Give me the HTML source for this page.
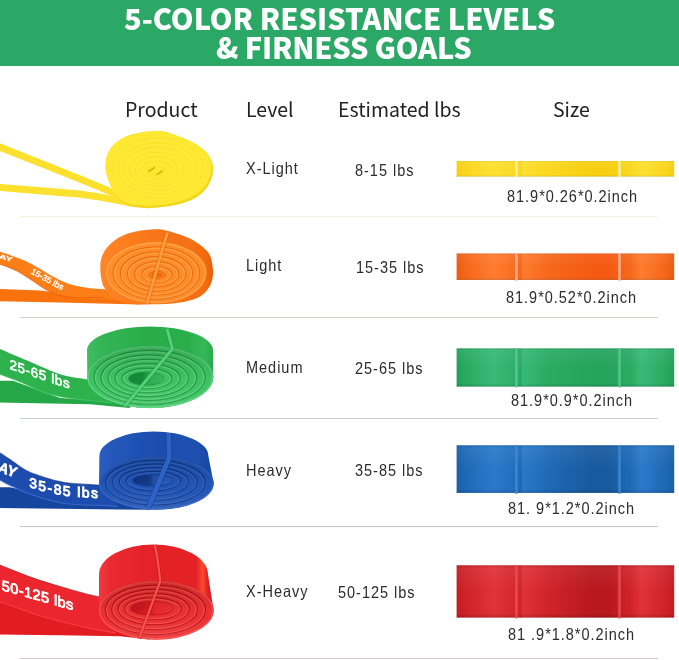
<!DOCTYPE html>
<html><head><meta charset="utf-8">
<style>
html,body{margin:0;padding:0;background:#fff;}
#page{position:relative;width:679px;height:660px;overflow:hidden;background:#fff;}
#banner{position:absolute;left:0;top:0;width:679px;height:65.8px;background:#2ba866;}
.t{position:absolute;white-space:nowrap;color:#fff;font-family:"Noto Sans CJK SC","Liberation Sans",sans-serif;font-weight:900;font-size:29px;line-height:29px;letter-spacing:0px;}
.h{position:absolute;white-space:nowrap;color:#222;font-family:"Noto Sans CJK SC","Liberation Sans",sans-serif;font-weight:400;font-size:19.5px;line-height:20px;}
.b{position:absolute;white-space:nowrap;color:#2c2c2c;font-family:"Liberation Sans",sans-serif;font-size:16.5px;line-height:17px;letter-spacing:1.1px;transform-origin:0 0;transform:scaleX(.88);}
.ln{position:absolute;left:20px;width:638px;height:1px;}
.bar{position:absolute;left:456px;width:218px;}
#art{position:absolute;left:0;top:0;}
</style></head><body>
<div id="page">
<div id="banner"></div>
<div class="t" id="t1" style="left:124px;top:2.5px;">5-COLOR RESISTANCE LEVELS</div>
<div class="t" id="t2" style="left:216px;top:32.3px;letter-spacing:-.2px;">&amp; FIRNESS GOALS</div>

<div class="h" id="h1" style="left:125px;top:99px;">Product</div>
<div class="h" id="h2" style="left:246px;top:99px;">Level</div>
<div class="h" id="h3" style="left:338px;top:99px;">Estimated lbs</div>
<div class="h" id="h4" style="left:553px;top:99px;">Size</div>

<div class="ln" style="top:216px;background:#f4f2e0;"></div>
<div class="ln" style="top:317px;background:#d9cfc6;"></div>
<div class="ln" style="top:418px;background:#c6cfca;"></div>
<div class="ln" style="top:526px;background:#c3c7c6;"></div>
<div class="ln" style="top:658px;background:#cfc6c6;"></div>

<div class="b" id="l1" style="left:246px;top:160px;">X-Light</div>
<div class="b" id="l2" style="left:246px;top:257px;">Light</div>
<div class="b" id="l3" style="left:246px;top:359px;">Medium</div>
<div class="b" id="l4" style="left:246px;top:462px;">Heavy</div>
<div class="b" id="l5" style="left:246px;top:583px;">X-Heavy</div>

<div class="b" id="w1" style="left:355px;top:162px;">8-15 lbs</div>
<div class="b" id="w2" style="left:356px;top:259px;">15-35 lbs</div>
<div class="b" id="w3" style="left:355px;top:360px;">25-65 lbs</div>
<div class="b" id="w4" style="left:355px;top:462px;">35-85 lbs</div>
<div class="b" id="w5" style="left:338px;top:584px;">50-125 lbs</div>

<div class="b" id="s1" style="left:507px;top:188px;">81.9*0.26*0.2inch</div>
<div class="b" id="s2" style="left:506px;top:289px;">81.9*0.52*0.2inch</div>
<div class="b" id="s3" style="left:511px;top:392px;">81.9*0.9*0.2inch</div>
<div class="b" id="s4" style="left:508px;top:500px;">81. 9*1.2*0.2inch</div>
<div class="b" id="s5" style="left:508px;top:626px;">81 .9*1.8*0.2inch</div>

<svg id="art" width="679" height="660" viewBox="0 0 679 660">
<defs>
<linearGradient id="gy" x1="0" x2="1" y1="0" y2="0"><stop offset="0" stop-color="#f6cf14"/><stop offset="0.05" stop-color="#fad720"/><stop offset="0.17" stop-color="#fde034"/><stop offset="0.3" stop-color="#fad720"/><stop offset="0.3" stop-color="#fde034"/><stop offset="0.42" stop-color="#fad720"/><stop offset="0.62" stop-color="#f7cf12"/><stop offset="0.7" stop-color="#f7cf12"/><stop offset="0.8" stop-color="#fad720"/><stop offset="0.85" stop-color="#fde034"/><stop offset="0.95" stop-color="#fad720"/><stop offset="1" stop-color="#f6cf14"/></linearGradient>
<linearGradient id="go" x1="0" x2="1" y1="0" y2="0"><stop offset="0" stop-color="#ea5c10"/><stop offset="0.05" stop-color="#f6681c"/><stop offset="0.17" stop-color="#ff7c30"/><stop offset="0.3" stop-color="#f6681c"/><stop offset="0.3" stop-color="#ff7c30"/><stop offset="0.42" stop-color="#f6681c"/><stop offset="0.62" stop-color="#f55a12"/><stop offset="0.7" stop-color="#f55a12"/><stop offset="0.8" stop-color="#f6681c"/><stop offset="0.85" stop-color="#ff7c30"/><stop offset="0.95" stop-color="#f6681c"/><stop offset="1" stop-color="#ea5c10"/></linearGradient>
<linearGradient id="gg" x1="0" x2="1" y1="0" y2="0"><stop offset="0" stop-color="#22a058"/><stop offset="0.05" stop-color="#2aab64"/><stop offset="0.17" stop-color="#38ba76"/><stop offset="0.3" stop-color="#2aab64"/><stop offset="0.3" stop-color="#38ba76"/><stop offset="0.42" stop-color="#2aab64"/><stop offset="0.62" stop-color="#25a45e"/><stop offset="0.7" stop-color="#25a45e"/><stop offset="0.8" stop-color="#2aab64"/><stop offset="0.85" stop-color="#38ba76"/><stop offset="0.95" stop-color="#2aab64"/><stop offset="1" stop-color="#22a058"/></linearGradient>
<linearGradient id="gb" x1="0" x2="1" y1="0" y2="0"><stop offset="0" stop-color="#1a60a8"/><stop offset="0.05" stop-color="#1f6ab8"/><stop offset="0.17" stop-color="#2a7aca"/><stop offset="0.3" stop-color="#1f6ab8"/><stop offset="0.3" stop-color="#2a7aca"/><stop offset="0.42" stop-color="#1f6ab8"/><stop offset="0.62" stop-color="#185a9e"/><stop offset="0.7" stop-color="#185a9e"/><stop offset="0.8" stop-color="#1f6ab8"/><stop offset="0.85" stop-color="#2a7aca"/><stop offset="0.95" stop-color="#1f6ab8"/><stop offset="1" stop-color="#1a60a8"/></linearGradient>
<linearGradient id="gr" x1="0" x2="1" y1="0" y2="0"><stop offset="0" stop-color="#c41c22"/><stop offset="0.05" stop-color="#d0242a"/><stop offset="0.17" stop-color="#e03238"/><stop offset="0.3" stop-color="#d0242a"/><stop offset="0.3" stop-color="#e03238"/><stop offset="0.42" stop-color="#d0242a"/><stop offset="0.62" stop-color="#b8181e"/><stop offset="0.7" stop-color="#b8181e"/><stop offset="0.8" stop-color="#d0242a"/><stop offset="0.85" stop-color="#e03238"/><stop offset="0.95" stop-color="#d0242a"/><stop offset="1" stop-color="#c41c22"/></linearGradient>
<linearGradient id="gv" x1="0" x2="0" y1="0" y2="1"><stop offset="0" stop-color="#000" stop-opacity=".10"/><stop offset=".06" stop-color="#fff" stop-opacity=".06"/><stop offset=".5" stop-color="#fff" stop-opacity="0"/><stop offset=".92" stop-color="#000" stop-opacity="0"/><stop offset="1" stop-color="#000" stop-opacity=".16"/></linearGradient>
<linearGradient id="fo" x1="0" y1="0" x2="0" y2="1"><stop offset="0" stop-color="#000" stop-opacity=".13"/><stop offset=".45" stop-color="#000" stop-opacity=".03"/><stop offset=".6" stop-color="#fff" stop-opacity="0"/><stop offset="1" stop-color="#fff" stop-opacity=".08"/></linearGradient>
<clipPath id="cy"><path d="M105.6,167.2 C105.5,164.0 105.9,160.6 106.6,157.7 C107.3,154.8 108.3,152.1 110.0,149.5 C111.7,146.9 113.8,144.3 116.8,142.0 C119.8,139.7 123.6,137.5 127.7,135.9 C131.8,134.3 136.3,133.3 141.3,132.5 C146.3,131.7 154.0,131.2 157.7,131.1 C161.4,130.9 160.3,130.8 163.6,131.6 C166.9,132.4 172.8,134.3 177.3,135.9 C181.9,137.5 186.8,139.4 190.9,141.4 C195.0,143.4 198.9,145.9 201.8,148.2 C204.8,150.5 206.8,152.3 208.6,155.0 C210.4,157.7 212.0,161.3 212.7,164.5 C213.4,167.7 213.4,170.7 212.7,174.1 C212.0,177.5 210.6,181.6 208.6,185.0 C206.6,188.4 203.8,191.8 200.4,194.5 C197.0,197.2 193.2,199.4 188.2,201.3 C183.2,203.2 176.8,205.0 170.4,206.1 C164.0,207.2 156.4,207.8 150.0,207.9 C143.6,208.0 137.0,207.8 132.0,206.5 C127.0,205.2 123.2,202.8 120.0,200.0 C116.8,197.2 114.8,193.9 112.7,190.0 C110.6,186.1 108.5,180.6 107.3,176.8 C106.1,173.0 105.7,170.4 105.6,167.2 Z"/></clipPath>
<linearGradient id="wo" x1="0" y1="0" x2="1" y2="0"><stop offset="0" stop-color="#ff8628"/><stop offset="0.25" stop-color="#fc7c1e"/><stop offset="0.6" stop-color="#f87418"/><stop offset="0.93" stop-color="#f36c10"/><stop offset="1" stop-color="#e46008"/></linearGradient>
<linearGradient id="hg" x1="0" y1="0" x2="1" y2="0"><stop offset="0" stop-color="#15863a"/><stop offset="0.42" stop-color="#178c3c"/><stop offset="0.56" stop-color="#2cab52"/><stop offset="1" stop-color="#38b85e"/></linearGradient>
<linearGradient id="hb" x1="0" y1="0" x2="1" y2="0"><stop offset="0" stop-color="#103482"/><stop offset="0.42" stop-color="#133a8a"/><stop offset="0.56" stop-color="#2254ae"/><stop offset="1" stop-color="#2a5ebc"/></linearGradient>
<linearGradient id="hr" x1="0" y1="0" x2="1" y2="0"><stop offset="0" stop-color="#c4161e"/><stop offset="0.45" stop-color="#d01c26"/><stop offset="0.6" stop-color="#e8282e"/><stop offset="1" stop-color="#ee3034"/></linearGradient>
<linearGradient id="wg" x1="0" y1="0" x2="1" y2="0"><stop offset="0" stop-color="#40bc62"/><stop offset="0.12" stop-color="#34b556"/><stop offset="0.45" stop-color="#29ad4a"/><stop offset="0.8" stop-color="#2bae4c"/><stop offset="0.93" stop-color="#36b85a"/><stop offset="1" stop-color="#2aa84a"/></linearGradient>
<linearGradient id="wb" x1="0" y1="0" x2="1" y2="0"><stop offset="0" stop-color="#2a5ec0"/><stop offset="0.15" stop-color="#2256b8"/><stop offset="0.5" stop-color="#1b4eae"/><stop offset="0.85" stop-color="#1d50b0"/><stop offset="1" stop-color="#17449e"/></linearGradient>
<linearGradient id="wr" x1="0" y1="0" x2="1" y2="0"><stop offset="0" stop-color="#f0383e"/><stop offset="0.1" stop-color="#ea2a30"/><stop offset="0.5" stop-color="#e32128"/><stop offset="0.85" stop-color="#e42228"/><stop offset="0.905" stop-color="#fb4c2e"/><stop offset="0.95" stop-color="#e0202a"/><stop offset="1" stop-color="#d61a22"/></linearGradient>
<filter id="soft" x="-5%" y="-5%" width="110%" height="110%"><feGaussianBlur stdDeviation="0.45"/></filter>
</defs>
<g id="bars">
<rect x="456.6" y="161" width="217.6" height="15.5" fill="url(#gy)"/><rect x="456.6" y="161" width="217.6" height="15.5" fill="url(#gv)"/>
<rect x="515.1" y="160.7" width="2.6" height="16.7" fill="#fdf0a6" opacity=".9"/><rect x="618.2" y="160.7" width="2.6" height="16.7" fill="#fdf0a6" opacity=".9"/>
<rect x="456.6" y="253.5" width="217.6" height="26.4" fill="url(#go)"/><rect x="456.6" y="253.5" width="217.6" height="26.4" fill="url(#gv)"/>
<rect x="515.1" y="253.2" width="2.6" height="27.6" fill="#fbb492" opacity=".9"/><rect x="618.2" y="253.2" width="2.6" height="27.6" fill="#fbb492" opacity=".9"/>
<rect x="456.6" y="348.4" width="217.6" height="38.2" fill="url(#gg)"/><rect x="456.6" y="348.4" width="217.6" height="38.2" fill="url(#gv)"/>
<rect x="515.1" y="348.1" width="2.6" height="39.4" fill="#58c890" opacity=".9"/><rect x="618.2" y="348.1" width="2.6" height="39.4" fill="#58c890" opacity=".9"/>
<rect x="456.6" y="445.3" width="217.6" height="47.6" fill="url(#gb)"/><rect x="456.6" y="445.3" width="217.6" height="47.6" fill="url(#gv)"/>
<rect x="515.1" y="445" width="2.6" height="48.8" fill="#3c8ad4" opacity=".9"/><rect x="618.2" y="445" width="2.6" height="48.8" fill="#3c8ad4" opacity=".9"/>
<rect x="456.6" y="565.3" width="217.6" height="52.3" fill="url(#gr)"/><rect x="456.6" y="565.3" width="217.6" height="52.3" fill="url(#gv)"/>
<rect x="515.1" y="565" width="2.6" height="53.5" fill="#ea4c52" opacity=".9"/><rect x="618.2" y="565" width="2.6" height="53.5" fill="#ea4c52" opacity=".9"/>
</g>
<g filter="url(#soft)"><g id="ycoil"><path d="M-5,145.2 L50,167 L79.5,178.8 L108.9,190.9 L128,199.5" fill="none" stroke="#fbe12e" stroke-width="7.0"/>
<path d="M-5,187 L50,191.6 L79.5,194 C95,196 108.9,198.3 131,203 L150,205" fill="none" stroke="#fbe12e" stroke-width="7.2"/>
<path d="M105.6,167.2 C105.5,164.0 105.9,160.6 106.6,157.7 C107.3,154.8 108.3,152.1 110.0,149.5 C111.7,146.9 113.8,144.3 116.8,142.0 C119.8,139.7 123.6,137.5 127.7,135.9 C131.8,134.3 136.3,133.3 141.3,132.5 C146.3,131.7 154.0,131.2 157.7,131.1 C161.4,130.9 160.3,130.8 163.6,131.6 C166.9,132.4 172.8,134.3 177.3,135.9 C181.9,137.5 186.8,139.4 190.9,141.4 C195.0,143.4 198.9,145.9 201.8,148.2 C204.8,150.5 206.8,152.3 208.6,155.0 C210.4,157.7 212.0,161.3 212.7,164.5 C213.4,167.7 213.4,170.7 212.7,174.1 C212.0,177.5 210.6,181.6 208.6,185.0 C206.6,188.4 203.8,191.8 200.4,194.5 C197.0,197.2 193.2,199.4 188.2,201.3 C183.2,203.2 176.8,205.0 170.4,206.1 C164.0,207.2 156.4,207.8 150.0,207.9 C143.6,208.0 137.0,207.8 132.0,206.5 C127.0,205.2 123.2,202.8 120.0,200.0 C116.8,197.2 114.8,193.9 112.7,190.0 C110.6,186.1 108.5,180.6 107.3,176.8 C106.1,173.0 105.7,170.4 105.6,167.2 Z" fill="#f1d61e"/>
<g clip-path="url(#cy)"><path d="M105.6,167.2 C105.5,164.0 105.9,160.6 106.6,157.7 C107.3,154.8 108.3,152.1 110.0,149.5 C111.7,146.9 113.8,144.3 116.8,142.0 C119.8,139.7 123.6,137.5 127.7,135.9 C131.8,134.3 136.3,133.3 141.3,132.5 C146.3,131.7 154.0,131.2 157.7,131.1 C161.4,130.9 160.3,130.8 163.6,131.6 C166.9,132.4 172.8,134.3 177.3,135.9 C181.9,137.5 186.8,139.4 190.9,141.4 C195.0,143.4 198.9,145.9 201.8,148.2 C204.8,150.5 206.8,152.3 208.6,155.0 C210.4,157.7 212.0,161.3 212.7,164.5 C213.4,167.7 213.4,170.7 212.7,174.1 C212.0,177.5 210.6,181.6 208.6,185.0 C206.6,188.4 203.8,191.8 200.4,194.5 C197.0,197.2 193.2,199.4 188.2,201.3 C183.2,203.2 176.8,205.0 170.4,206.1 C164.0,207.2 156.4,207.8 150.0,207.9 C143.6,208.0 137.0,207.8 132.0,206.5 C127.0,205.2 123.2,202.8 120.0,200.0 C116.8,197.2 114.8,193.9 112.7,190.0 C110.6,186.1 108.5,180.6 107.3,176.8 C106.1,173.0 105.7,170.4 105.6,167.2 Z" fill="#fee831" transform="translate(-1.6,-2.2)"/></g>
<ellipse cx="157.7" cy="167.9" rx="45.0" ry="29.7" fill="none" stroke="#f0d21c" stroke-width="1.0" opacity="0.42"/>
<ellipse cx="157.7" cy="168.2" rx="44.1" ry="28.9" fill="none" stroke="#fff06a" stroke-width="0.9" opacity="0.4"/>
<ellipse cx="157.4" cy="168.4" rx="39.0" ry="25.4" fill="none" stroke="#f0d21c" stroke-width="1.0" opacity="0.42"/>
<ellipse cx="157.4" cy="168.6" rx="38.1" ry="24.6" fill="none" stroke="#fff06a" stroke-width="0.9" opacity="0.4"/>
<ellipse cx="157.1" cy="168.8" rx="33.0" ry="21.1" fill="none" stroke="#f0d21c" stroke-width="1.0" opacity="0.42"/>
<ellipse cx="157.1" cy="169.0" rx="32.1" ry="20.3" fill="none" stroke="#fff06a" stroke-width="0.9" opacity="0.4"/>
<ellipse cx="156.9" cy="169.2" rx="27.0" ry="16.9" fill="none" stroke="#f0d21c" stroke-width="1.0" opacity="0.42"/>
<ellipse cx="156.9" cy="169.5" rx="26.2" ry="16.0" fill="none" stroke="#fff06a" stroke-width="0.9" opacity="0.4"/>
<ellipse cx="156.6" cy="169.6" rx="21.0" ry="12.6" fill="none" stroke="#f0d21c" stroke-width="1.0" opacity="0.42"/>
<ellipse cx="156.6" cy="169.9" rx="20.2" ry="11.7" fill="none" stroke="#fff06a" stroke-width="0.9" opacity="0.4"/>
<ellipse cx="156.3" cy="170.1" rx="15.0" ry="8.3" fill="none" stroke="#f0d21c" stroke-width="1.0" opacity="0.42"/>
<ellipse cx="156.3" cy="170.3" rx="14.2" ry="7.4" fill="none" stroke="#fff06a" stroke-width="0.9" opacity="0.4"/>
<ellipse cx="156.0" cy="170.5" rx="9.0" ry="4.0" fill="none" stroke="#f0d21c" stroke-width="1.0" opacity="0.42"/>
<path d="M149,171 L154.5,167.6" stroke="#d9ae08" stroke-width="1.6" fill="none" stroke-linecap="round"/>
<path d="M157,174.3 L162,171" stroke="#d9ae08" stroke-width="1.6" fill="none" stroke-linecap="round"/></g>
<g id="ocoil"><path d="M0,288.9 L40,290.5 L68,294 L120,296 L140,304.4 L60,302.6 L0,301.3 Z" fill="#f8720f"/>
<path d="M0,251.8 C10,255 19,258 26.5,261.5 C36,266 44,271.5 53,276.5 C60,280.5 65,282.8 70.7,284.5 C78,286.6 84,287.3 90,288.2 L112,289.8 L118,300 L90,298.6 C80,298.6 73,298.4 67.2,296.9 C62,296.3 58,295.5 53,293.3 C46,290 41,287 35.3,282.6 C29,278 23,274.4 17.7,271.2 C12,268.5 6,266.2 0,264.2 Z" fill="#fc7e16"/>
<path d="M0,264.2 C6,266.2 12,268.5 17.7,271.2 C23,274.4 29,278 35.3,282.6 C41,287 46,290 53,293.3 C58,295.5 62,296.3 67.2,296.9 C73,298.4 84,297.6 104,297.2" fill="none" stroke="#e25c06" stroke-width="1.1" opacity="0.6"/>
<path d="M100.3,267.4 C100.3,263.8 100.6,260.7 101.5,257.7 C102.4,254.7 103.7,252.0 105.8,249.2 C107.9,246.4 110.8,243.3 114.2,240.8 C117.6,238.3 122.0,235.8 126.4,234.1 C130.8,232.4 135.7,231.3 140.9,230.5 C146.2,229.7 153.4,229.1 157.9,229.2 C162.4,229.3 163.4,229.8 168.2,231.1 C172.9,232.4 181.3,235.0 186.4,237.1 C191.5,239.2 195.1,241.5 198.5,243.8 C201.9,246.1 205.0,248.9 207.0,251.1 C209.0,253.3 209.7,254.8 210.6,257.1 C211.5,259.4 212.0,262.3 212.4,265.0 C212.8,267.7 213.2,270.5 213.0,273.5 C212.8,276.5 212.6,280.0 211.2,283.2 C209.8,286.4 207.5,290.2 204.5,292.9 C201.5,295.6 198.4,297.7 193.1,299.5 C187.8,301.3 180.1,302.8 172.5,303.6 C164.9,304.4 154.6,304.4 147.7,304.4 C140.8,304.4 136.8,304.8 131.2,303.8 C125.6,302.8 118.7,301.1 114.2,298.5 C109.8,295.9 106.6,291.2 104.5,288.0 C102.4,284.8 102.2,282.9 101.5,279.5 C100.8,276.1 100.3,271.0 100.3,267.4 Z" fill="url(#wo)"/>
<ellipse cx="156.2" cy="272.6" rx="50.2" ry="30.6" fill="#ff8e2c"/>
<ellipse cx="156.2" cy="272.8" rx="49.4" ry="29.8" fill="none" stroke="#ffaa52" stroke-width="1.6" opacity="0.7"/>
<ellipse cx="156.3" cy="273.0" rx="43.2" ry="26.1" fill="none" stroke="#e86206" stroke-width="1.2" opacity="0.8"/>
<ellipse cx="156.3" cy="273.2" rx="42.0" ry="25.0" fill="none" stroke="#ffaa52" stroke-width="1.3" opacity="0.7"/>
<ellipse cx="156.5" cy="273.4" rx="36.1" ry="21.6" fill="none" stroke="#e86206" stroke-width="1.2" opacity="0.8"/>
<ellipse cx="156.5" cy="273.7" rx="35.0" ry="20.5" fill="none" stroke="#ffaa52" stroke-width="1.3" opacity="0.7"/>
<ellipse cx="156.6" cy="273.8" rx="29.1" ry="17.1" fill="none" stroke="#e86206" stroke-width="1.2" opacity="0.8"/>
<ellipse cx="156.6" cy="274.1" rx="28.0" ry="15.9" fill="none" stroke="#ffaa52" stroke-width="1.3" opacity="0.7"/>
<ellipse cx="156.7" cy="274.2" rx="22.1" ry="12.6" fill="none" stroke="#e86206" stroke-width="1.2" opacity="0.8"/>
<ellipse cx="156.7" cy="274.4" rx="20.9" ry="11.5" fill="none" stroke="#ffaa52" stroke-width="1.3" opacity="0.7"/>
<ellipse cx="156.9" cy="274.6" rx="15.0" ry="8.1" fill="none" stroke="#e86206" stroke-width="1.2" opacity="0.8"/>
<ellipse cx="156.9" cy="274.9" rx="13.9" ry="7.0" fill="none" stroke="#ffaa52" stroke-width="1.3" opacity="0.7"/>
<ellipse cx="157.0" cy="275.0" rx="8.0" ry="3.6" fill="none" stroke="#e86206" stroke-width="1.2" opacity="0.8"/>
<ellipse cx="157.0" cy="275.0" rx="6.0" ry="2.6" fill="#f0680c"/>
<path d="M167.4,232.5 L146.9,303.6" fill="none" stroke="#d85606" stroke-width="4.6" stroke-linecap="butt" stroke-linejoin="round" opacity="0.5"/>
<path d="M167.4,232.5 L146.9,303.6" fill="none" stroke="#ff9c3e" stroke-width="3.0" stroke-linecap="butt" stroke-linejoin="round"/></g>
<g id="gtail"><path d="M-2,380.8 L13,380.8 L60,398 L130,402 L130,408 L90,404.2 L-2,402.4 Z" fill="#26a746"/><path d="M-2.0,348.2 C0.4,349.3 7.1,352.4 12.7,354.8 C18.3,357.2 27.2,360.9 31.8,362.8 C36.4,364.8 35.3,364.5 40.0,366.5 C44.7,368.5 55.0,372.9 60.0,374.6 C65.0,376.4 66.8,376.3 70.0,377.0 C73.2,377.7 76.8,378.2 79.5,378.6 C82.2,379.0 83.9,379.1 86.0,379.5 C88.1,379.9 91.0,380.8 92.0,381.0 L112.0,403.0 C110.0,402.8 105.4,402.1 100.0,401.5 C94.6,400.9 86.2,400.3 79.5,399.5 C72.8,398.7 66.2,397.9 60.0,396.7 C53.8,395.4 48.9,394.4 42.4,392.0 C35.9,389.6 28.6,385.4 21.2,382.4 C13.8,379.4 1.9,375.2 -2.0,373.8 Z" fill="#2db24e"/><path d="M-2.0,373.8 C1.9,375.2 13.8,379.4 21.2,382.4 C28.6,385.4 35.9,389.6 42.4,392.0 C48.9,394.4 53.8,395.4 60.0,396.7 C66.2,397.9 72.8,398.7 79.5,399.5 C86.2,400.3 94.6,400.9 100.0,401.5 C105.4,402.1 110.0,402.8 112.0,403.0" fill="none" stroke="#55cf78" stroke-width="1.1" opacity="0.55"/><path d="M-2.0,348.2 C0.4,349.3 7.1,352.4 12.7,354.8 C18.3,357.2 27.2,360.9 31.8,362.8 C36.4,364.8 35.3,364.5 40.0,366.5 C44.7,368.5 55.0,372.9 60.0,374.6 C65.0,376.4 66.8,376.3 70.0,377.0 C73.2,377.7 76.8,378.2 79.5,378.6 C82.2,379.0 83.9,379.1 86.0,379.5 C88.1,379.9 91.0,380.8 92.0,381.0" fill="none" stroke="#178a34" stroke-width="0.9" opacity="0.5"/></g>
<g id="gcoil"><path d="M87.3,377.0 L87.0,350.2 A63.0,23.7 0 0 1 213.0,350.2 L213.3,377.0 A63.0,31.0 0 0 1 87.3,377.0 Z" fill="url(#wg)"/>
<ellipse cx="150.3" cy="377.0" rx="63.0" ry="31.0" fill="#3ec264"/>
<ellipse cx="150.3" cy="377.2" rx="62.2" ry="30.2" fill="none" stroke="#64d686" stroke-width="1.6" opacity="0.75"/>
<ellipse cx="149.6" cy="377.3" rx="55.4" ry="26.9" fill="none" stroke="#1c963a" stroke-width="1.3" opacity="0.9"/>
<ellipse cx="149.6" cy="377.5" rx="54.2" ry="25.7" fill="none" stroke="#64d686" stroke-width="1.3" opacity="0.75"/>
<ellipse cx="148.9" cy="377.6" rx="47.8" ry="22.7" fill="none" stroke="#1c963a" stroke-width="1.3" opacity="0.9"/>
<ellipse cx="148.9" cy="377.8" rx="46.6" ry="21.5" fill="none" stroke="#64d686" stroke-width="1.3" opacity="0.75"/>
<ellipse cx="148.2" cy="377.9" rx="40.1" ry="18.6" fill="none" stroke="#1c963a" stroke-width="1.3" opacity="0.9"/>
<ellipse cx="148.2" cy="378.1" rx="39.0" ry="17.4" fill="none" stroke="#64d686" stroke-width="1.3" opacity="0.75"/>
<ellipse cx="147.6" cy="378.1" rx="32.5" ry="14.5" fill="none" stroke="#1c963a" stroke-width="1.3" opacity="0.9"/>
<ellipse cx="147.6" cy="378.4" rx="31.3" ry="13.3" fill="none" stroke="#64d686" stroke-width="1.3" opacity="0.75"/>
<ellipse cx="146.9" cy="378.4" rx="24.9" ry="10.3" fill="none" stroke="#1c963a" stroke-width="1.3" opacity="0.9"/>
<ellipse cx="146.9" cy="378.7" rx="23.7" ry="9.1" fill="none" stroke="#64d686" stroke-width="1.3" opacity="0.75"/>
<ellipse cx="146.2" cy="378.7" rx="17.3" ry="6.2" fill="none" stroke="#1c963a" stroke-width="1.3" opacity="0.9"/>
<ellipse cx="146.2" cy="378.7" rx="17.3" ry="6.2" fill="url(#hg)"/>
<ellipse cx="150.3" cy="377.0" rx="63.0" ry="31.0" fill="url(#fo)"/>

<path d="M167.1,329 L172.4,348.9 L124.5,406.5" fill="none" stroke="#188a36" stroke-width="4.6" stroke-linecap="butt" stroke-linejoin="round" opacity="0.5"/>
<path d="M167.1,329 L172.4,348.9 L124.5,406.5" fill="none" stroke="#56d07a" stroke-width="3.0" stroke-linecap="butt" stroke-linejoin="round"/></g>
<g id="btail"><path d="M-2,487.2 L10,487.2 L60,498 L150,498 L150,509.7 L120,509.5 L-2,508 Z" fill="#19449e"/><path d="M-2.0,451.8 C-1.7,452.0 -2.0,451.7 0.0,453.0 C2.0,454.3 6.5,457.2 10.0,459.6 C13.5,462.0 17.9,465.5 21.2,467.6 C24.5,469.7 26.5,470.9 30.0,472.4 C33.5,473.9 38.6,475.5 42.4,476.8 C46.2,478.1 50.1,479.2 53.0,480.0 C55.9,480.8 57.0,481.0 60.0,481.6 C63.0,482.2 64.2,482.8 70.7,483.4 C77.2,484.0 93.1,484.7 99.0,485.0 C104.9,485.3 104.8,485.2 106.0,485.3 L118.0,506.5 C116.0,506.4 112.4,505.9 106.0,505.6 C99.6,505.3 87.2,505.3 79.5,504.8 C71.8,504.3 68.0,504.5 60.0,502.8 C52.0,501.1 40.0,497.6 31.8,494.8 C23.6,492.0 16.2,488.4 10.6,485.8 C5.0,483.2 0.1,480.1 -2.0,479.0 Z" fill="#1f4eae"/><path d="M-2.0,479.0 C0.1,480.1 5.0,483.2 10.6,485.8 C16.2,488.4 23.6,492.0 31.8,494.8 C40.0,497.6 52.0,501.1 60.0,502.8 C68.0,504.5 71.8,504.3 79.5,504.8 C87.2,505.3 99.6,505.3 106.0,505.6 C112.4,505.9 116.0,506.4 118.0,506.5" fill="none" stroke="#4676d4" stroke-width="1.1" opacity="0.7"/><path d="M-2.0,451.8 C-1.7,452.0 -2.0,451.7 0.0,453.0 C2.0,454.3 6.5,457.2 10.0,459.6 C13.5,462.0 17.9,465.5 21.2,467.6 C24.5,469.7 26.5,470.9 30.0,472.4 C33.5,473.9 38.6,475.5 42.4,476.8 C46.2,478.1 50.1,479.2 53.0,480.0 C55.9,480.8 57.0,481.0 60.0,481.6 C63.0,482.2 64.2,482.8 70.7,483.4 C77.2,484.0 93.1,484.7 99.0,485.0 C104.9,485.3 104.8,485.2 106.0,485.3" fill="none" stroke="#0e2c78" stroke-width="1.2" opacity="0.6"/></g>
<g id="bcoil"><path d="M99.0,483.2 L99.4,455.9 A54.5,24.4 0 0 1 208.4,455.9 L213.6,483.2 A57.3,26.4 0 0 1 99.0,483.2 Z" fill="url(#wb)"/>
<ellipse cx="156.3" cy="483.2" rx="57.3" ry="26.4" fill="#2254b4"/>
<ellipse cx="156.3" cy="483.4" rx="56.5" ry="25.6" fill="none" stroke="#3366c4" stroke-width="1.6" opacity="0.75"/>
<ellipse cx="155.5" cy="482.6" rx="49.7" ry="22.2" fill="none" stroke="#103686" stroke-width="1.3" opacity="0.9"/>
<ellipse cx="155.5" cy="482.9" rx="48.5" ry="21.0" fill="none" stroke="#3366c4" stroke-width="1.3" opacity="0.75"/>
<ellipse cx="154.8" cy="482.1" rx="42.2" ry="18.0" fill="none" stroke="#103686" stroke-width="1.3" opacity="0.9"/>
<ellipse cx="154.8" cy="482.3" rx="41.0" ry="16.8" fill="none" stroke="#3366c4" stroke-width="1.3" opacity="0.75"/>
<ellipse cx="154.0" cy="481.5" rx="34.6" ry="13.9" fill="none" stroke="#103686" stroke-width="1.3" opacity="0.9"/>
<ellipse cx="154.0" cy="481.8" rx="33.4" ry="12.7" fill="none" stroke="#3366c4" stroke-width="1.3" opacity="0.75"/>
<ellipse cx="153.3" cy="481.0" rx="27.1" ry="9.7" fill="none" stroke="#103686" stroke-width="1.3" opacity="0.9"/>
<ellipse cx="153.3" cy="481.2" rx="25.9" ry="8.5" fill="none" stroke="#3366c4" stroke-width="1.3" opacity="0.75"/>
<ellipse cx="152.5" cy="480.4" rx="19.5" ry="5.5" fill="none" stroke="#103686" stroke-width="1.3" opacity="0.9"/>
<ellipse cx="152.5" cy="480.4" rx="19.5" ry="5.5" fill="url(#hb)"/>
<ellipse cx="156.3" cy="483.2" rx="57.3" ry="26.4" fill="url(#fo)"/>

<path d="M168.6,433 L169.2,457.6 L148,508.5" fill="none" stroke="#12368a" stroke-width="6.199999999999999" stroke-linecap="butt" stroke-linejoin="round" opacity="0.5"/>
<path d="M168.6,433 L169.2,457.6 L148,508.5" fill="none" stroke="#2e64c6" stroke-width="4.6" stroke-linecap="butt" stroke-linejoin="round"/></g>
<g id="rtail"><path d="M-2,600 L60,615 L150,625 L150,639.4 L120,636.3 L60,635.3 L-2,634.6 Z" fill="#e31c24"/><path d="M-2.0,564.2 C-1.7,564.3 -3.4,563.6 0.0,565.0 C3.4,566.4 12.1,569.9 18.2,572.3 C24.3,574.6 29.4,576.8 36.4,579.1 C43.4,581.5 51.3,583.9 60.0,586.4 C68.7,588.9 81.1,592.5 88.4,594.4 C95.7,596.2 100.4,596.7 104.0,597.5 C107.6,598.3 109.0,598.8 110.0,599.0 L116.0,633.0 C113.2,632.5 106.5,631.6 99.0,630.1 C91.5,628.6 78.4,625.8 70.7,624.0 C63.0,622.2 58.9,621.1 53.0,619.5 C47.1,617.9 41.2,616.1 35.3,614.2 C29.4,612.3 23.9,610.2 17.7,608.0 C11.5,605.8 1.3,602.3 -2.0,601.2 Z" fill="#ec272d"/><path d="M-2.0,601.2 C1.3,602.3 11.5,605.8 17.7,608.0 C23.9,610.2 29.4,612.3 35.3,614.2 C41.2,616.1 47.1,617.9 53.0,619.5 C58.9,621.1 63.0,622.2 70.7,624.0 C78.4,625.8 91.5,628.6 99.0,630.1 C106.5,631.6 113.2,632.5 116.0,633.0" fill="none" stroke="#fa5a58" stroke-width="1.1" opacity="0.55"/><path d="M-2.0,564.2 C-1.7,564.3 -3.4,563.6 0.0,565.0 C3.4,566.4 12.1,569.9 18.2,572.3 C24.3,574.6 29.4,576.8 36.4,579.1 C43.4,581.5 51.3,583.9 60.0,586.4 C68.7,588.9 81.1,592.5 88.4,594.4 C95.7,596.2 100.4,596.7 104.0,597.5 C107.6,598.3 109.0,598.8 110.0,599.0" fill="none" stroke="#8e0c12" stroke-width="1.0" opacity="0.55"/></g>
<g id="rcoil"><path d="M99.0,610.2 L99.0,574.3 A54.5,29.8 0 0 1 208.0,574.3 L213.6,610.2 A57.3,29.2 0 0 1 99.0,610.2 Z" fill="url(#wr)"/>
<ellipse cx="156.3" cy="610.2" rx="57.3" ry="29.2" fill="#ea3034"/>
<ellipse cx="156.3" cy="610.4" rx="56.5" ry="28.4" fill="none" stroke="#f6564e" stroke-width="1.6" opacity="0.75"/>
<ellipse cx="155.4" cy="609.8" rx="50.0" ry="24.7" fill="none" stroke="#b81018" stroke-width="1.3" opacity="0.9"/>
<ellipse cx="155.4" cy="610.1" rx="48.8" ry="23.5" fill="none" stroke="#f6564e" stroke-width="1.3" opacity="0.75"/>
<ellipse cx="154.6" cy="609.4" rx="42.8" ry="20.1" fill="none" stroke="#b81018" stroke-width="1.3" opacity="0.9"/>
<ellipse cx="154.6" cy="609.7" rx="41.6" ry="18.9" fill="none" stroke="#f6564e" stroke-width="1.3" opacity="0.75"/>
<ellipse cx="153.7" cy="609.0" rx="35.5" ry="15.6" fill="none" stroke="#b81018" stroke-width="1.3" opacity="0.9"/>
<ellipse cx="153.7" cy="609.2" rx="34.3" ry="14.4" fill="none" stroke="#f6564e" stroke-width="1.3" opacity="0.75"/>
<ellipse cx="152.9" cy="608.6" rx="28.3" ry="11.0" fill="none" stroke="#b81018" stroke-width="1.3" opacity="0.9"/>
<ellipse cx="152.9" cy="608.9" rx="27.1" ry="9.8" fill="none" stroke="#f6564e" stroke-width="1.3" opacity="0.75"/>
<ellipse cx="152.0" cy="608.2" rx="21.0" ry="6.5" fill="none" stroke="#b81018" stroke-width="1.3" opacity="0.9"/>
<ellipse cx="152.0" cy="608.2" rx="21.0" ry="6.5" fill="url(#hr)"/>
<ellipse cx="156.3" cy="610.2" rx="57.3" ry="29.2" fill="url(#fo)"/>

<path d="M154.8,544.9 C156.5,552 158,560 160.3,581 L139,638.6" fill="none" stroke="#b8141c" stroke-width="3.8000000000000003" stroke-linecap="butt" stroke-linejoin="round" opacity="0.5"/>
<path d="M154.8,544.9 C156.5,552 158,560 160.3,581 L139,638.6" fill="none" stroke="#f8524e" stroke-width="2.2" stroke-linecap="butt" stroke-linejoin="round"/></g>
<g id="labels">
<text x="-1.5" y="258.3" transform="rotate(15 -1.5 258.3)" font-family="Liberation Sans, sans-serif" font-size="6.4" font-weight="700" fill="#fff" stroke="#fff" stroke-width=".2" textLength="14" lengthAdjust="spacingAndGlyphs">AY</text>
<text x="30.2" y="273.2" transform="rotate(28.6 30.2 273.2)" font-family="Liberation Sans, sans-serif" font-size="8.6" font-weight="400" letter-spacing="0" text-anchor="start" fill="#fff" stroke="#fff" stroke-width="0.4" textLength="36" lengthAdjust="spacing">15-35 lbs</text>
<text transform="translate(9.4 368.8) skewY(18.4)" x="0" y="0" font-family="Liberation Sans, sans-serif" font-size="13.6" font-weight="400" fill="#fff" stroke="#fff" stroke-width="0.55" textLength="60.3" lengthAdjust="spacing">25-65 lbs</text>
<text x="14.8" y="477.6" transform="rotate(20 14.8 477.6)" font-family="Liberation Sans, sans-serif" font-size="14.5" font-weight="700" letter-spacing="0" text-anchor="end" fill="#fff" stroke="#fff" stroke-width="0.55">AY</text>
<text transform="translate(29.2 486.8) skewY(9.25)" x="0" y="0" dy="0.62 1.37 0.65 0.37 -0.10 -0.41 -0.43 -0.63 -1.03" font-family="Liberation Sans, sans-serif" font-size="14" font-weight="400" fill="#fff" stroke="#fff" stroke-width="0.85" textLength="68.8" lengthAdjust="spacing">35-85 lbs</text>
<text transform="translate(1.8 590.2) skewY(15.7)" x="0" y="0" font-family="Liberation Sans, sans-serif" font-size="14.6" font-weight="400" fill="#fff" stroke="#fff" stroke-width="0.8" textLength="71.6" lengthAdjust="spacing">50-125 lbs</text>
</g></g>
</svg>
</div>
</body></html>
